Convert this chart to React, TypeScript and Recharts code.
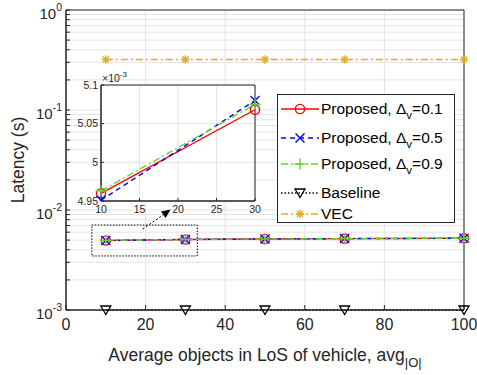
import React from "react";
import {
  LineChart,
  Line,
  XAxis,
  YAxis,
  CartesianGrid,
  ReferenceArea,
  ReferenceLine,
  Legend,
} from "recharts";

// ---------------------------------------------------------------------------
// Data
// ---------------------------------------------------------------------------

const objects = [10, 30, 50, 70, 100];
const proposed01 = [0.00496, 0.005068, 0.00513, 0.00517, 0.00521];
const proposed05 = [0.004951, 0.00508, 0.005135, 0.005175, 0.005215];
const proposed09 = [0.004963, 0.005075, 0.005133, 0.005172, 0.005212];
const baseline = [0.001, 0.001, 0.001, 0.001, 0.001];
const vec = [0.32, 0.32, 0.32, 0.32, 0.32];

const xTicks = [0, 20, 40, 60, 80, 100];
const yTicks = [
  0.001, 0.002, 0.003, 0.004, 0.005, 0.006, 0.007, 0.008, 0.009,
  0.01, 0.02, 0.03, 0.04, 0.05, 0.06, 0.07, 0.08, 0.09,
  0.1, 0.2, 0.3, 0.4, 0.5, 0.6, 0.7, 0.8, 0.9, 1,
];

// zoomed inset (x = 10..30)
const insetObjects = [10, 30];
const insetP01 = [0.00496, 0.005068];
const insetP05 = [0.004951, 0.00508];
const insetP09 = [0.004963, 0.005075];
const insetXTicks = [10, 15, 20, 25, 30];
const insetYTicks = [0.00495, 0.005, 0.00505, 0.0051];

const seriesNames = [
  "Proposed, Δv=0.1",
  "Proposed, Δv=0.5",
  "Proposed, Δv=0.9",
  "Baseline",
  "VEC",
];

const mainData = objects.map((x, i) => ({
  x,
  p01: proposed01[i],
  p05: proposed05[i],
  p09: proposed09[i],
  base: baseline[i],
  vec: vec[i],
}));

const insetData = insetObjects.map((x, i) => ({
  x,
  p01: insetP01[i],
  p05: insetP05[i],
  p09: insetP09[i],
}));

// ---------------------------------------------------------------------------
// Styles
// ---------------------------------------------------------------------------

const FONT = "'Liberation Sans', Arial, Helvetica, sans-serif";
const AXIS = "#262626";
const GRID = "#e3e3e3";
const RED = "#ff0000";
const BLUE = "#0000ff";
const GREEN = "#66d12e";
const GOLD = "#e3ad20";

// ---------------------------------------------------------------------------
// Markers
// ---------------------------------------------------------------------------

type Mk = "circle" | "x" | "plus" | "tri" | "star";

function Marker({ kind, cx, cy, color, s = 1 }: { kind: Mk; cx: number; cy: number; color: string; s?: number }) {
  const sw = 1.4;
  if (kind === "circle")
    return <circle cx={cx} cy={cy} r={4.6 * s} stroke={color} strokeWidth={sw} fill="none" />;
  if (kind === "x") {
    const d = 4.5 * s;
    return (
      <g stroke={color} strokeWidth={sw}>
        <line x1={cx - d} y1={cy - d} x2={cx + d} y2={cy + d} />
        <line x1={cx - d} y1={cy + d} x2={cx + d} y2={cy - d} />
      </g>
    );
  }
  if (kind === "plus") {
    const d = 5.5 * s;
    return (
      <g stroke={color} strokeWidth={sw}>
        <line x1={cx - d} y1={cy} x2={cx + d} y2={cy} />
        <line x1={cx} y1={cy - d} x2={cx} y2={cy + d} />
      </g>
    );
  }
  if (kind === "tri") {
    return (
      <polygon
        points={`${cx - 5},${cy - 4} ${cx + 5},${cy - 4} ${cx},${cy + 4.5}`}
        stroke={color}
        strokeWidth={1.3}
        fill="none"
      />
    );
  }
  const d = 4.2;
  const e = 3;
  return (
    <g stroke={color} strokeWidth={1.5}>
      <line x1={cx - d} y1={cy} x2={cx + d} y2={cy} />
      <line x1={cx} y1={cy - d} x2={cx} y2={cy + d} />
      <line x1={cx - e} y1={cy - e} x2={cx + e} y2={cy + e} />
      <line x1={cx - e} y1={cy + e} x2={cx + e} y2={cy - e} />
    </g>
  );
}

const dotOf = (kind: Mk, color: string) => (p: any) =>
  <Marker key={`${kind}-${p.index}`} kind={kind} cx={p.cx} cy={p.cy} color={color} />;

// ---------------------------------------------------------------------------
// Ticks & labels
// ---------------------------------------------------------------------------

function LogTick({ x, y, payload }: any) {
  const v = payload.value as number;
  const e = Math.round(Math.log10(v));
  if (Math.abs(Math.log10(v) - e) > 1e-6) return <g />;
  return (
    <text x={x} y={y + 9} textAnchor="end" fill={AXIS} fontSize={15}>
      10
      <tspan dy={-8} fontSize={10.5}>{`${e}`}</tspan>
    </text>
  );
}

function XLabel({ viewBox }: any) {
  const cx = viewBox.x + viewBox.width / 2;
  return (
    <text x={cx} y={361} textAnchor="middle" fill={AXIS} fontSize={17.5}>
      Average objects in LoS of vehicle, avg
      <tspan dy={6} fontSize={13}>|O|</tspan>
    </text>
  );
}

function YLabel() {
  return (
    <text x={24} y={160} textAnchor="middle" fill={AXIS} fontSize={17.5} transform="rotate(-90 24 160)">
      Latency (s)
    </text>
  );
}

function ArrowShape(p: any) {
  const { x1, y1, x2, y2 } = p;
  const a = Math.atan2(y2 - y1, x2 - x1);
  const L = 9;
  const W = 4;
  const bx = x2 - L * Math.cos(a);
  const by = y2 - L * Math.sin(a);
  const px = -Math.sin(a) * W;
  const py = Math.cos(a) * W;
  return (
    <g>
      <line x1={x1} y1={y1} x2={bx} y2={by} stroke="#000" strokeWidth={1} strokeDasharray="2 2" />
      <polygon points={`${x2},${y2} ${bx + px},${by + py} ${bx - px},${by - py}`} fill="#000" />
    </g>
  );
}

// ---------------------------------------------------------------------------
// Legend
// ---------------------------------------------------------------------------

const legendStyle: { color: string; dash?: string; mk: Mk }[] = [
  { color: RED, mk: "circle" },
  { color: BLUE, dash: "5 4", mk: "x" },
  { color: GREEN, dash: "7 3 2 3", mk: "plus" },
  { color: "#000", dash: "1.5 2", mk: "tri" },
  { color: GOLD, dash: "7 3 2 3", mk: "star" },
];
const legendRowCenters = [14, 43, 69, 98, 119];

function LegendBox() {
  return (
    <div
      style={{
        position: "relative",
        width: 178,
        height: 129,
        boxSizing: "border-box",
        border: `1px solid ${AXIS}`,
        background: "#fff",
        fontFamily: FONT,
        fontSize: 15.5,
        color: "#000",
      }}
    >
      {seriesNames.map((name, i) => {
        const st = legendStyle[i];
        const hasSub = name.includes("Δv");
        const [pre, post] = hasSub ? name.split("Δv") : [name, ""];
        return (
          <div
            key={name}
            style={{
              position: "absolute",
              left: 0,
              top: legendRowCenters[i] - 11,
              height: 22,
              display: "flex",
              alignItems: "center",
              whiteSpace: "nowrap",
            }}
          >
            <svg width={43} height={22} style={{ display: "block" }}>
              <line x1={3} y1={11} x2={41} y2={11} stroke={st.color} strokeWidth={1.3} strokeDasharray={st.dash} />
              <Marker kind={st.mk} cx={22} cy={11} color={st.color} />
            </svg>
            <span>
              {pre}
              {hasSub && (
                <>
                  Δ<span style={{ fontSize: 11.5, position: "relative", top: 5 }}>v</span>
                  {post}
                </>
              )}
            </span>
          </div>
        );
      })}
    </div>
  );
}

// ---------------------------------------------------------------------------
// Inset
// ---------------------------------------------------------------------------

function InsetChart() {
  return (
    <div style={{ position: "absolute", left: 61, top: 68 }}>
      <LineChart width={200} height={152} data={insetData} margin={{ top: 17, right: 6, bottom: 0, left: 0 }}>
        <CartesianGrid stroke={GRID} fill="#fff" fillOpacity={1} />
        <XAxis
          dataKey="x"
          type="number"
          domain={[10, 30]}
          ticks={insetXTicks}
          interval={0}
          height={19}
          tickSize={-3}
          tickMargin={8}
          stroke={AXIS}
          tick={{ fill: AXIS, fontSize: 10.5 }}
        />
        <YAxis
          type="number"
          domain={[0.00495, 0.0051]}
          ticks={insetYTicks}
          interval={0}
          allowDataOverflow
          width={40}
          tickSize={-3}
          tickMargin={6}
          stroke={AXIS}
          tick={{ fill: AXIS, fontSize: 10.5 }}
          tickFormatter={(v: number) => String(parseFloat((v * 1000).toFixed(2)))}
          label={{
            content: ({ viewBox }: any) => (
              <text x={viewBox.x + viewBox.width + 1} y={viewBox.y - 3} fill={AXIS} fontSize={10.5}>
                ×10
                <tspan dy={-5} fontSize={8}>-3</tspan>
              </text>
            ),
          }}
        />
        <ReferenceArea x1={10} x2={30} y1={0.00495} y2={0.0051} fill="none" stroke={AXIS} strokeWidth={1} />
        <Line dataKey="p01" stroke={RED} strokeWidth={1.4} dot={dotOf("circle", RED)} isAnimationActive={false} />
        <Line dataKey="p05" stroke={BLUE} strokeWidth={1.4} strokeDasharray="5 4" dot={dotOf("x", BLUE)} isAnimationActive={false} />
        <Line dataKey="p09" stroke={GREEN} strokeWidth={1.4} strokeDasharray="7 3 2 3" dot={dotOf("plus", GREEN)} isAnimationActive={false} />
      </LineChart>
    </div>
  );
}

// ---------------------------------------------------------------------------
// App
// ---------------------------------------------------------------------------

export default function App() {
  return (
    <div style={{ position: "absolute", left: 0, top: 0, width: 477, height: 375, background: "#fff", fontFamily: FONT }}>
      <LineChart width={477} height={375} data={mainData} margin={{ top: 10, right: 13, bottom: 0, left: 0 }}>
        <CartesianGrid stroke={GRID} />
        <XAxis
          dataKey="x"
          type="number"
          domain={[0, 100]}
          ticks={xTicks}
          interval={0}
          height={65}
          tickSize={-5}
          tickMargin={14}
          stroke={AXIS}
          tick={{ fill: AXIS, fontSize: 16 }}
          label={{ content: XLabel }}
        />
        <YAxis
          type="number"
          scale="log"
          domain={[0.001, 1]}
          ticks={yTicks}
          interval={0}
          width={66}
          tickSize={-4}
          tickMargin={8}
          stroke={AXIS}
          tick={LogTick}
          label={{ content: YLabel }}
        />
        <ReferenceArea x1={0} x2={100} y1={0.001} y2={1} fill="none" stroke={AXIS} strokeWidth={1} />
        <ReferenceArea
          x1={6.5}
          x2={33}
          y1={0.00347}
          y2={0.00708}
          fill="none"
          stroke="#000"
          strokeWidth={1}
          strokeDasharray="1.5 1.5"
        />
        <ReferenceLine
          segment={[
            { x: 19.3, y: 0.00646 },
            { x: 26.3, y: 0.0101 },
          ]}
          shape={ArrowShape}
        />
        <Line dataKey="p01" stroke={RED} strokeWidth={1.4} dot={dotOf("circle", RED)} isAnimationActive={false} />
        <Line dataKey="p05" stroke={BLUE} strokeWidth={1.4} strokeDasharray="5 4" dot={dotOf("x", BLUE)} isAnimationActive={false} />
        <Line dataKey="p09" stroke={GREEN} strokeWidth={1.4} strokeDasharray="7 3 2 3" dot={dotOf("plus", GREEN)} isAnimationActive={false} />
        <Line dataKey="base" stroke="#000" strokeWidth={1.3} strokeDasharray="1.5 2" dot={dotOf("tri", "#000")} isAnimationActive={false} />
        <Line dataKey="vec" stroke={GOLD} strokeWidth={1.4} strokeDasharray="7 3 2 3" dot={dotOf("star", GOLD)} isAnimationActive={false} />
        <Legend
          layout="horizontal"
          verticalAlign="middle"
          align="center"
          wrapperStyle={{ left: 277, top: 94, width: 178, height: 129 }}
          content={() => <LegendBox />}
        />
      </LineChart>
      <InsetChart />
    </div>
  );
}
